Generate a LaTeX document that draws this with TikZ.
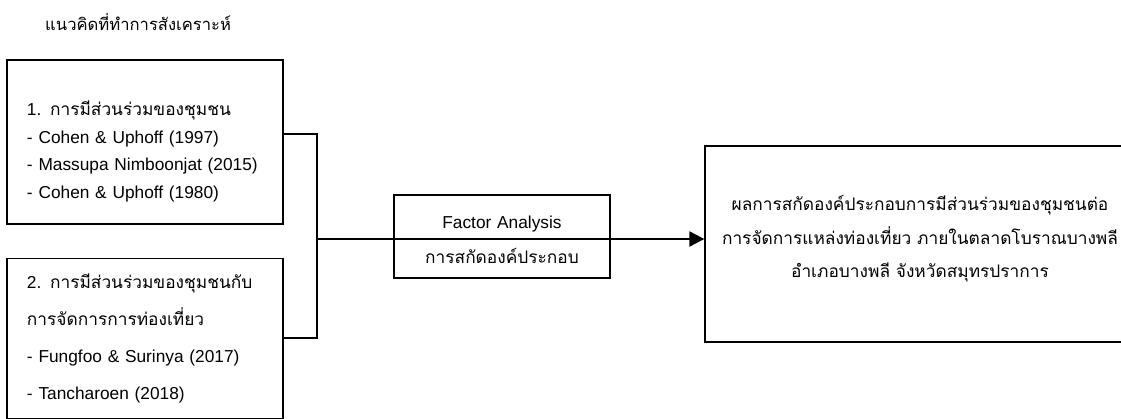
\documentclass[tikz,border=0pt]{standalone}
\usepackage{fontspec}
\setmainfont{Liberation Sans}
\newfontfamily\thaifont[Script=Thai]{Loma}
\usetikzlibrary{shapes,arrows.meta,positioning}
\tikzstyle{heading} = [anchor=west, inner sep=0pt, font=\fontsize{16.6}{20}\selectfont\thaifont]
\tikzstyle{source}  = [rectangle, draw, line width=1.3pt, text width=236pt, align=left, inner xsep=20pt, inner ysep=0pt, minimum width=276pt]
\tikzstyle{process} = [rectangle, draw, line width=1.3pt, text width=196pt, align=center, minimum width=216pt, minimum height=83pt, font=\fontsize{17.3}{35}\selectfont]
\tikzstyle{result}  = [rectangle, draw, line width=1.3pt, text width=410pt, align=center, minimum width=430pt, minimum height=196pt, font=\fontsize{17.3}{33.5}\selectfont]
\tikzstyle{flow} = [draw, line width=2pt]

\begin{document}
\begin{tikzpicture}[x=1pt, y=-1pt]
            \useasboundingbox (0,0) rectangle (1121,419);
            \node[heading] (title) at (45,22) {แนวคิดที่ทำการสังเคราะห์};
            \node[source, minimum height=164pt, font=\fontsize{17.3}{27.5}\selectfont] (concept1) at (145,142)
                {\rule{0pt}{34pt}1. {\thaifont การมีส่วนร่วมของชุมชน}\\- Cohen \& Uphoff (1997)\\- Massupa Nimboonjat (2015)\\- Cohen \& Uphoff (1980)};
            \node[source, minimum height=160pt, font=\fontsize{17.3}{37}\selectfont, below=33pt of concept1] (concept2)
                {2. {\thaifont การมีส่วนร่วมของชุมชนกับ}\\{\thaifont การจัดการการท่องเที่ยว}\\- Fungfoo \& Surinya (2017)\\- Tancharoen (2018)};
            \node[process] (factor) at (502,236.5) {\rule{0pt}{20pt}Factor Analysis\\{\thaifont การสกัดองค์ประกอบ}};
            \node[result] (outcome) at (920,244)
                {\thaifont ผลการสกัดองค์ประกอบการมีส่วนร่วมของชุมชนต่อ\\การจัดการแหล่งท่องเที่ยว ภายในตลาดโบราณบางพลี\\อำเภอบางพลี จังหวัดสมุทรปราการ\rule[-15pt]{0pt}{15pt}};
            \coordinate (join) at (317,239);

            \path [flow] ([yshift=8pt]concept1.east) -| (join);
            \path [flow] (concept2.east) -| (join);
            \path [flow, -{Triangle[length=15pt, width=15pt]}] (join) -- (join -| outcome.west);
        \end{tikzpicture}
\end{document}
